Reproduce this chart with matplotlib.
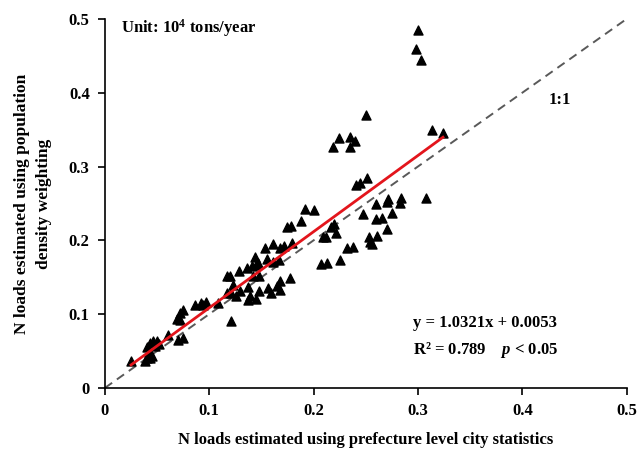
import numpy as np
import matplotlib
matplotlib.use("Agg")
import matplotlib.pyplot as plt

plt.rcParams['font.family'] = ['Liberation Serif', 'DejaVu Serif']
plt.rcParams['font.weight'] = 'bold'
plt.rcParams['mathtext.fontset'] = 'custom'
plt.rcParams['mathtext.rm'] = 'Liberation Serif:bold'
plt.rcParams['mathtext.it'] = 'Liberation Serif:bold:italic'
plt.rcParams['mathtext.bf'] = 'Liberation Serif:bold'

# prefecture-level statistics (x) vs population density weighting (y)
city_stat = [0.025, 0.038, 0.040, 0.043, 0.045, 0.040, 0.042, 0.043, 0.046, 0.050,
             0.052, 0.048, 0.060, 0.070, 0.075, 0.069, 0.072, 0.075, 0.072, 0.086,
             0.092, 0.094, 0.097, 0.108, 0.121, 0.117, 0.120, 0.117, 0.121, 0.123,
             0.126, 0.129, 0.128, 0.136, 0.141, 0.145, 0.144, 0.147, 0.142, 0.148,
             0.137, 0.139, 0.137, 0.145, 0.148, 0.153, 0.161, 0.155, 0.161, 0.167,
             0.168, 0.172, 0.179, 0.174, 0.178, 0.156, 0.159, 0.165, 0.168, 0.168,
             0.177, 0.188, 0.192, 0.200, 0.207, 0.213, 0.209, 0.212, 0.217, 0.220,
             0.221, 0.219, 0.224, 0.225, 0.232, 0.238, 0.235, 0.240, 0.235, 0.241,
             0.244, 0.251, 0.247, 0.250, 0.253, 0.254, 0.256, 0.260, 0.260, 0.261,
             0.266, 0.270, 0.271, 0.270, 0.275, 0.283, 0.284, 0.298, 0.300, 0.303,
             0.308, 0.313, 0.324]
pop_weight = [0.036, 0.037, 0.040, 0.041, 0.043, 0.056, 0.049, 0.061, 0.063, 0.063,
              0.060, 0.057, 0.072, 0.065, 0.067, 0.094, 0.101, 0.106, 0.092, 0.112,
              0.115, 0.112, 0.116, 0.115, 0.091, 0.152, 0.152, 0.128, 0.128, 0.139,
              0.124, 0.131, 0.158, 0.163, 0.165, 0.167, 0.178, 0.169, 0.151, 0.152,
              0.137, 0.124, 0.119, 0.121, 0.131, 0.189, 0.195, 0.175, 0.170, 0.173,
              0.190, 0.192, 0.196, 0.218, 0.220, 0.136, 0.128, 0.138, 0.132, 0.145,
              0.149, 0.226, 0.242, 0.241, 0.168, 0.169, 0.204, 0.204, 0.218, 0.222,
              0.210, 0.326, 0.339, 0.173, 0.189, 0.191, 0.340, 0.334, 0.327, 0.275,
              0.278, 0.284, 0.236, 0.370, 0.204, 0.198, 0.195, 0.249, 0.229, 0.206,
              0.230, 0.252, 0.256, 0.215, 0.237, 0.250, 0.257, 0.459, 0.485, 0.444,
              0.257, 0.350, 0.346]

slope = 1.0321
intercept = 0.0053
ticks = [0, 0.1, 0.2, 0.3, 0.4, 0.5]
tick_labels = ['0', '0.1', '0.2', '0.3', '0.4', '0.5']

fig = plt.figure(figsize=(6.44, 4.51), dpi=100)
ax = fig.add_axes([0.163, 0.14, 0.81, 0.818])

ax.plot([0, 0.5], [0, 0.5], color='#595959', lw=1.4, ls=(0, (4.5, 3)), zorder=1)
ax.scatter(city_stat, pop_weight, marker='^', s=42, color='black', zorder=2)
xf = np.array([min(city_stat), max(city_stat)])
ax.plot(xf, slope * xf + intercept, color='#e3151c', lw=2, zorder=3)

ax.set_xlim(0, 0.5)
ax.set_ylim(0, 0.5)
ax.set_xticks(ticks)
ax.set_xticklabels(tick_labels)
ax.set_yticks(ticks)
ax.set_yticklabels(tick_labels)
ax.tick_params(direction='out', length=5, width=1.2, labelsize=12, pad=6)
for s in ['top', 'right']:
    ax.spines[s].set_visible(False)
for s in ['left', 'bottom']:
    ax.spines[s].set_linewidth(1.2)

ax.set_xlabel('N loads estimated using prefecture level city statistics',
              fontsize=12, fontweight='bold', labelpad=9)
ax.set_ylabel('N loads estimated using population\ndensity weighting',
              fontsize=12.5, fontweight='bold', labelpad=12, linespacing=1.55)

ax.text(0.015, 0.488, r'Unit: 10$^{4}$ tons/year', fontsize=12, va='center')
ax.text(0.425, 0.39, '1:1', fontsize=12, va='center')
ax.text(0.295, 0.088, 'y = 1.0321x + 0.0053', fontsize=12, va='center')
ax.text(0.295, 0.0515, r'R² = 0.789    $p$ < 0.05', fontsize=12, va='center')

fig.savefig('out.png', dpi=100)
